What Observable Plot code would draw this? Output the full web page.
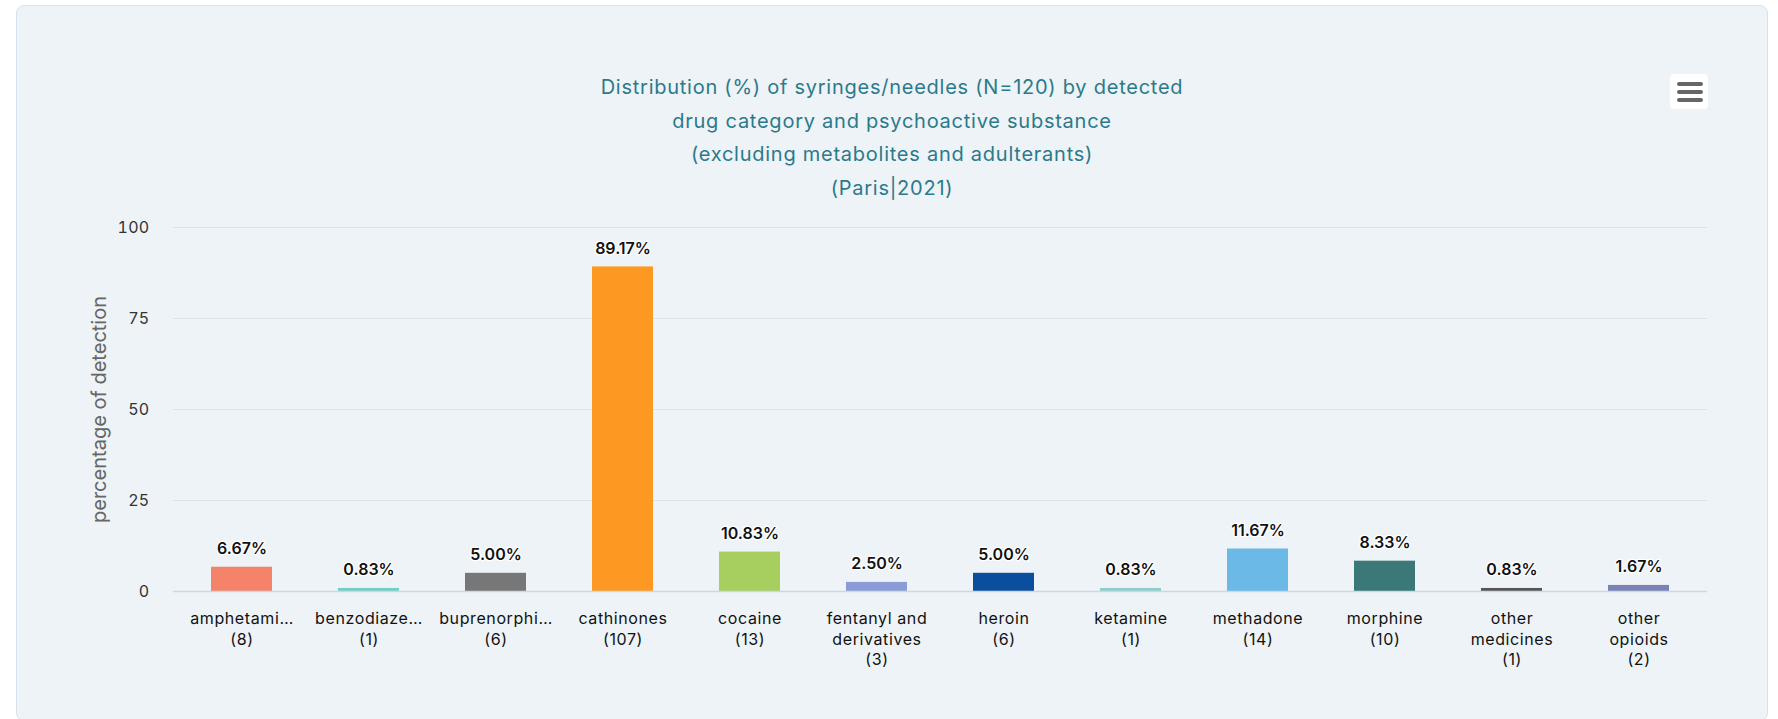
<!DOCTYPE html>
<html>
<head>
<meta charset="utf-8">
<script src="https://cdn.jsdelivr.net/npm/d3@7"></script>
<script src="https://cdn.jsdelivr.net/npm/@observablehq/plot@0.6"></script>
<style>
  html, body { margin: 0; padding: 0; background: #ffffff; width: 1778px; height: 719px; overflow: hidden; }
  #card {
    position: absolute; left: 16px; top: 5px; width: 1752px; height: 716px;
    box-sizing: border-box; background: #eef3f7; border: 1px solid #d6e2ee; border-radius: 8px;
    font-family: Inter, "Open Sans", sans-serif;
  }
  #title {
    position: absolute; left: 0; top: 65px; width: 100%; text-align: center;
    font-size: 20px; letter-spacing: 0.75px; line-height: 33.6px; color: #2b7a8b;
  }
  #menu {
    position: absolute; left: 1653px; top: 68px; width: 38px; height: 35px;
    background: #ffffff; border-radius: 4px;
  }
  #menu div { position: absolute; left: 7px; width: 26px; height: 4px; border-radius: 2px; background: #666666; }
  #chart { position: absolute; left: 0; top: 199px; }
  #chart svg [aria-label="x-axis tick label"] text { letter-spacing: 0.6px; }
  #chart svg [aria-label="y-axis tick label"] text { letter-spacing: 0.3px; }
</style>
</head>
<body>
<div id="card">
  <div id="title">Distribution (%) of syringes/needles (N=120) by detected<br>drug category and psychoactive substance<br>(excluding metabolites and adulterants)<br>(Paris|2021)</div>
  <div id="menu"><div style="top:8px"></div><div style="top:16px"></div><div style="top:24px"></div></div>
  <div id="chart"></div>
</div>
<script>
const categories = ["amphetamines","benzodiazepines","buprenorphine","cathinones","cocaine","fentanyl and derivatives","heroin","ketamine","methadone","morphine","other medicines","other opioids"];
const displayNames = ["amphetami…","benzodiaze…","buprenorphi…","cathinones","cocaine","fentanyl and\nderivatives","heroin","ketamine","methadone","morphine","other\nmedicines","other\nopioids"];
const counts = [8,1,6,107,13,3,6,1,14,10,1,2];
const percents = [6.67,0.83,5.00,89.17,10.83,2.50,5.00,0.83,11.67,8.33,0.83,1.67];
const colors = ["#f5836a","#74cfc3","#777777","#fd9823","#a6cf60","#8a9cd3","#0c4e9e","#8ecfc9","#6bb9e6","#3b7878","#555555","#7a83b4"];
const yTicks = [0,25,50,75,100];
const yLabel = "percentage of detection";

const data = categories.map((c, i) => ({cat: c, pct: percents[i], count: counts[i], name: displayNames[i]}));
const tickText = new Map(data.map(d => [d.cat, d.name + "\n(" + d.count + ")"]));

const chart = Plot.plot({
  width: 1750,
  height: 510,
  marginLeft: 156,
  marginRight: 60,
  marginTop: 22,
  marginBottom: 124,
  style: {background: "transparent", fontFamily: "Inter, 'Open Sans', sans-serif", fontSize: "16px", color: "#222"},
  x: {domain: categories, padding: 0},
  y: {domain: [0, 100]},
  color: {domain: categories, range: colors},
  marks: [
    Plot.gridY(yTicks.filter(t => t > 0), {stroke: "#e0e3e6", strokeOpacity: 1}),
    Plot.barY(data, {x: "cat", y: "pct", fill: "cat", insetLeft: 33, insetRight: 33}),
    Plot.ruleY([0], {stroke: "#ccd6eb", strokeWidth: 1.5}),
    Plot.text(data, {x: "cat", y: "pct", text: d => d.pct.toFixed(2) + "%", dy: -13, lineAnchor: "bottom",
      fill: "#111", stroke: "white", strokeWidth: 2.5, fontWeight: 600, fontSize: 16}),
    Plot.axisY({ticks: yTicks, tickSize: 0, tickPadding: 24, label: null, fontSize: 16, fill: "#333"}),
    Plot.text([yLabel], {frameAnchor: "left", rotate: -90, dx: -74, text: d => d, textAnchor: "middle", lineAnchor: "middle", fill: "#666", fontSize: 20}),
    Plot.axisX({tickSize: 0, tickPadding: 18, label: null, tickFormat: d => tickText.get(d), lineHeight: 1.28, fontSize: 16, fill: "#111"})
  ]
});
document.getElementById("chart").appendChild(chart);
</script>
</body>
</html>
